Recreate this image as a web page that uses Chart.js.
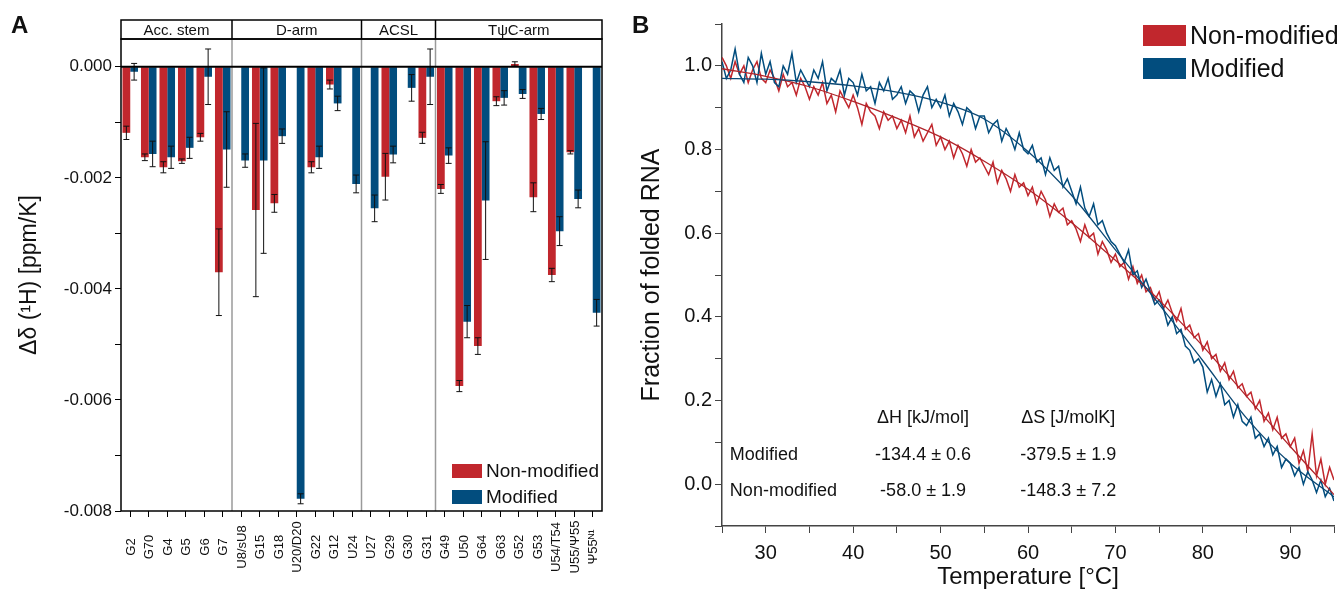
<!DOCTYPE html>
<html>
<head>
<meta charset="UTF-8">
<title>tRNA temperature coefficients and melting curves</title>
<script src="https://cdn.jsdelivr.net/npm/chart.js"></script>
<style>
  body { margin: 0; background: #fff; }
  #wrapA { position: absolute; left: 0; top: 0; }
  #wrapB { position: absolute; left: 620px; top: 0; }
</style>
</head>
<body>
<div id="wrapA"><canvas id="chartA" width="620" height="592"></canvas></div>
<div id="wrapB"><canvas id="chartB" width="724" height="592"></canvas></div>

<script>
    // ---- panel A: temperature coefficients per nucleotide ----
    const nucleotides = ['G2', 'G70', 'G4', 'G5', 'G6', 'G7',
        'U8/sU8', 'G15', 'G18', 'U20/D20', 'G22', 'G12', 'U24',
        'U27', 'G29', 'G30', 'G31',
        'G49', 'U50', 'G64', 'G63', 'G52', 'G53', 'U54/T54', 'U55/Ψ55', 'Ψ55ᴺ¹'];
    const regions = ['Acc. stem', 'D-arm', 'ACSL', 'TψC-arm'];
    const regionSizes = [6, 7, 4, 9];

    const nonModified = [-0.00119, -0.00163, -0.00181, -0.00170, -0.00127, -0.00370,
        null, -0.00258, -0.00246, null, -0.00181, -0.00032, null,
        null, -0.00198, null, -0.00128,
        -0.00220, -0.00575, -0.00503, -0.00062, 0.00005, -0.00235, -0.00375, -0.00154, null];
    const nonModifiedErr = [0.00012, 0.00006, 0.00010, 0.00004, 0.00007, 0.00078,
        null, 0.00156, 0.00016, null, 0.00010, 0.00008, null,
        null, 0.00042, null, 0.00010,
        0.00008, 0.00010, 0.00015, 0.00008, 0.00004, 0.00026, 0.00012, 0.00003, null];
    const modified = [-0.00009, -0.00157, -0.00163, -0.00146, -0.00018, -0.00149,
        -0.00169, -0.00169, -0.00125, -0.00778, -0.00163, -0.00066, -0.00211,
        -0.00255, -0.00158, -0.00038, -0.00018,
        -0.00160, -0.00459, -0.00241, -0.00056, -0.00049, -0.00085, -0.00296, -0.00238, -0.00443];
    const modifiedErr = [0.00015, 0.00023, 0.00020, 0.00019, 0.00050, 0.00068,
        0.00012, 0.00167, 0.00013, 0.00009, 0.00020, 0.00013, 0.00016,
        0.00024, 0.00015, 0.00024, 0.00050,
        0.00014, 0.00029, 0.00106, 0.00013, 0.00008, 0.00010, 0.00026, 0.00016, 0.00024];

    // ---- panel B: melting curves, sampled every 0.5 °C from 25 °C ----
    const meltStart = 25, meltStep = 0.5;
    const modifiedMelt = [
        1.01, 0.97, 0.99, 1.04, 0.98, 0.96, 1.02, 1.00, 0.96, 1.03,
        0.98, 1.01, 0.96, 0.95, 1.00, 0.98, 1.03, 0.96, 0.99, 0.97,
        0.95, 0.99, 0.97, 1.01, 0.94, 0.97, 0.96, 0.99, 0.93, 0.97,
        0.96, 0.93, 0.98, 0.94, 0.95, 0.91, 0.96, 0.94, 0.97, 0.92,
        0.93, 0.95, 0.91, 0.94, 0.93, 0.89, 0.93, 0.95, 0.90, 0.92,
        0.90, 0.93, 0.88, 0.91, 0.89, 0.86, 0.90, 0.89, 0.85, 0.88,
        0.88, 0.84, 0.86, 0.87, 0.82, 0.85, 0.83, 0.80, 0.84, 0.80,
        0.79, 0.81, 0.77, 0.78, 0.74, 0.78, 0.75, 0.76, 0.71, 0.73,
        0.70, 0.67, 0.71, 0.66, 0.64, 0.67, 0.62, 0.63, 0.60, 0.58,
        0.57, 0.55, 0.53, 0.56, 0.50, 0.51, 0.47, 0.49, 0.46, 0.43,
        0.44, 0.42, 0.38, 0.40, 0.36, 0.37, 0.33, 0.32, 0.29, 0.30,
        0.28, 0.22, 0.25, 0.21, 0.24, 0.19, 0.20, 0.16, 0.19, 0.15,
        0.14, 0.16, 0.11, 0.12, 0.09, 0.11, 0.07, 0.09, 0.04, 0.06,
        0.05, 0.02, 0.04, 0.00, 0.03, 0.01, -0.02, 0.01, -0.03, -0.01,
        -0.04];
    const nonModifiedMelt = [
        1.02, 1.00, 0.97, 1.01, 0.98, 1.00, 0.96, 0.99, 1.01, 0.97,
        0.96, 0.99, 0.97, 0.94, 0.98, 0.95, 0.96, 0.93, 0.97, 0.95,
        0.92, 0.95, 0.93, 0.96, 0.91, 0.93, 0.89, 0.94, 0.92, 0.90,
        0.93, 0.90, 0.86, 0.91, 0.89, 0.88, 0.85, 0.89, 0.87, 0.88,
        0.85, 0.87, 0.84, 0.88, 0.83, 0.85, 0.82, 0.84, 0.86, 0.81,
        0.83, 0.80, 0.82, 0.78, 0.81, 0.79, 0.76, 0.80, 0.77, 0.78,
        0.76, 0.74, 0.77, 0.72, 0.75, 0.73, 0.70, 0.74, 0.71, 0.72,
        0.69, 0.71, 0.67, 0.70, 0.68, 0.64, 0.67, 0.65, 0.66, 0.62,
        0.63, 0.61, 0.58, 0.62, 0.59, 0.60, 0.55, 0.58, 0.56, 0.53,
        0.55, 0.52, 0.53, 0.49, 0.52, 0.48, 0.50, 0.46, 0.47, 0.44,
        0.46, 0.42, 0.44, 0.41, 0.39, 0.42, 0.37, 0.38, 0.35, 0.36,
        0.32, 0.34, 0.30, 0.31, 0.27, 0.29, 0.25, 0.27, 0.23, 0.24,
        0.21, 0.22, 0.18, 0.20, 0.15, 0.17, 0.13, 0.16, 0.11, 0.12,
        0.09, 0.11, 0.05, 0.08, 0.03, 0.12, 0.02, 0.06, 0.00, 0.04,
        0.01];
    const fitTemps = [25, 30, 35, 40, 45, 50, 55, 60, 65, 70, 75, 80, 85, 90, 95];
    const modifiedFit = [0.970, 0.968, 0.962, 0.952, 0.937, 0.913, 0.873, 0.795, 0.690, 0.560, 0.430, 0.295, 0.158, 0.050, -0.030];
    const nonModifiedFit = [0.993, 0.975, 0.950, 0.915, 0.875, 0.830, 0.772, 0.705, 0.625, 0.535, 0.440, 0.330, 0.210, 0.090, -0.025];

    const tableHead = ['ΔH [kJ/mol]', 'ΔS [J/molK]'];
    const tableRows = [
        ['Modified', '-134.4 ± 0.6', '-379.5 ± 1.9'],
        ['Non-modified', '-58.0 ± 1.9', '-148.3 ± 7.2']
    ];

    const RED = '#c1272d';
    const BLUE = '#024d7e';
    const FONT = '"Liberation Sans", Arial, sans-serif';
    Chart.defaults.font.family = FONT;
    Chart.defaults.color = '#111';

    function regionEdges(chart) {
        const x = chart.scales.x, a = chart.chartArea;
        const edges = [a.left];
        let idx = 0;
        regionSizes.slice(0, -1).forEach(n => {
            idx += n;
            edges.push((x.getPixelForValue(idx - 1) + x.getPixelForValue(idx)) / 2);
        });
        edges.push(a.right);
        return edges;
    }

    const panelA = {
        id: 'panelA',
        beforeDatasetsDraw(chart) {
            const {ctx, chartArea: a} = chart;
            ctx.save();
            ctx.strokeStyle = '#9a9a9a';
            ctx.lineWidth = 1.5;
            regionEdges(chart).slice(1, -1).forEach(px => {
                ctx.beginPath(); ctx.moveTo(px, a.top); ctx.lineTo(px, a.bottom); ctx.stroke();
            });
            ctx.restore();
        },
        afterDatasetsDraw(chart) {
            const {ctx, chartArea: a, scales: {y}} = chart;
            ctx.save();
            // error bars
            ctx.strokeStyle = '#111';
            ctx.lineWidth = 1;
            chart.data.datasets.forEach((ds, d) => {
                chart.getDatasetMeta(d).data.forEach((bar, i) => {
                    const v = ds.data[i], e = ds.errors[i];
                    if (v === null || e === null) return;
                    const y1 = y.getPixelForValue(v - e), y2 = y.getPixelForValue(v + e);
                    ctx.beginPath();
                    ctx.moveTo(bar.x, y1); ctx.lineTo(bar.x, y2);
                    ctx.moveTo(bar.x - 3, y1); ctx.lineTo(bar.x + 3, y1);
                    ctx.moveTo(bar.x - 3, y2); ctx.lineTo(bar.x + 3, y2);
                    ctx.stroke();
                });
            });
            // zero line
            const y0 = y.getPixelForValue(0);
            ctx.lineWidth = 2.2;
            ctx.strokeStyle = '#000';
            ctx.beginPath(); ctx.moveTo(a.left, y0); ctx.lineTo(a.right, y0); ctx.stroke();
            ctx.restore();
        },
        afterDraw(chart) {
            const {ctx, chartArea: a, scales: {x}} = chart;
            const headTop = a.top - 19;
            const edges = regionEdges(chart);
            ctx.save();
            // frame and region header
            ctx.strokeStyle = '#000';
            ctx.lineWidth = 1.5;
            ctx.strokeRect(a.left, a.top, a.right - a.left, a.bottom - a.top);
            ctx.strokeRect(a.left, headTop, a.right - a.left, a.top - headTop);
            edges.slice(1, -1).forEach(px => {
                ctx.beginPath(); ctx.moveTo(px, headTop); ctx.lineTo(px, a.top); ctx.stroke();
            });
            ctx.fillStyle = '#111';
            ctx.font = '15px ' + FONT;
            ctx.textAlign = 'center';
            ctx.textBaseline = 'middle';
            regions.forEach((r, i) => ctx.fillText(r, (edges[i] + edges[i + 1]) / 2, (headTop + a.top) / 2 + 1));
            // vertical nucleotide labels, centred under each tick
            ctx.font = '13px ' + FONT;
            nucleotides.forEach((lab, i) => {
                ctx.save();
                ctx.translate(x.getPixelForValue(i) + 1, a.bottom + 36);
                ctx.rotate(-Math.PI / 2);
                ctx.fillText(lab, 0, 0);
                ctx.restore();
            });
            // legend inside the plot
            ctx.font = '19px ' + FONT;
            ctx.textAlign = 'left';
            chart.data.datasets.forEach((ds, i) => {
                const bx = a.right - 150, by = a.bottom - 47 + i * 26;
                ctx.fillStyle = ds.backgroundColor;
                ctx.fillRect(bx, by, 30, 14);
                ctx.fillStyle = '#111';
                ctx.fillText(ds.label, bx + 34, by + 8);
            });
            // panel letter
            ctx.font = 'bold 24px ' + FONT;
            ctx.textBaseline = 'alphabetic';
            ctx.fillText('A', 11, 33);
            ctx.restore();
        }
    };

    new Chart(document.getElementById('chartA'), {
        type: 'bar',
        data: {
            labels: nucleotides,
            datasets: [
                {label: 'Non-modified', data: nonModified, errors: nonModifiedErr, backgroundColor: RED},
                {label: 'Modified', data: modified, errors: modifiedErr, backgroundColor: BLUE}
            ]
        },
        options: {
            responsive: false,
            animation: false,
            layout: {padding: {top: 39, right: 18, left: 0, bottom: 0}},
            datasets: {bar: {categoryPercentage: 0.84, barPercentage: 1.0}},
            plugins: {legend: {display: false}, tooltip: {enabled: false}},
            scales: {
                x: {
                    grid: {offset: false, drawOnChartArea: false, tickLength: 6, color: '#000'},
                    border: {display: false},
                    ticks: {display: false},
                    afterFit: s => { s.height = 81; }
                },
                y: {
                    min: -0.008, max: 0.0005,
                    afterBuildTicks: s => { s.ticks = s.ticks.filter(t => t.value < 0.0001); },
                    ticks: {
                        stepSize: 0.001,
                        padding: 3,
                        font: {size: 17},
                        callback: v => {
                            const k = Math.round(v * 1000);
                            return k % 2 ? '' : (k === 0 ? '0.000' : (k / 1000).toFixed(3));
                        }
                    },
                    grid: {drawOnChartArea: false, tickLength: 6, color: '#000'},
                    border: {display: false},
                    title: {display: true, text: 'Δδ (¹H) [ppm/K]', font: {size: 23}, padding: {top: 16, bottom: 0}},
                    afterFit: s => { s.width = 121; }
                }
            }
        },
        plugins: [panelA]
    });

    const panelB = {
        id: 'panelB',
        afterDraw(chart) {
            const {ctx, chartArea: a, scales: {x, y}} = chart;
            ctx.save();
            ctx.fillStyle = '#111';
            // legend, top right
            ctx.font = '25px ' + FONT;
            ctx.textAlign = 'left';
            ctx.textBaseline = 'middle';
            [chart.data.datasets[3], chart.data.datasets[2]].forEach((ds, i) => {
                const bx = a.right - 191, by = 25 + i * 33;
                ctx.fillStyle = ds.borderColor;
                ctx.fillRect(bx, by, 43, 21);
                ctx.fillStyle = '#111';
                ctx.fillText(ds.label, bx + 47, by + 12);
            });
            // thermodynamic table
            ctx.font = '18px ' + FONT;
            const colX = [x.getPixelForValue(48.0), x.getPixelForValue(64.6)];
            const rowY = [y.getPixelForValue(0.069), y.getPixelForValue(-0.017)];
            ctx.textAlign = 'center';
            tableHead.forEach((h, c) => ctx.fillText(h, colX[c], y.getPixelForValue(0.158)));
            tableRows.forEach((row, r) => {
                ctx.textAlign = 'left';
                ctx.fillText(row[0], x.getPixelForValue(25.9), rowY[r]);
                ctx.textAlign = 'center';
                ctx.fillText(row[1], colX[0], rowY[r]);
                ctx.fillText(row[2], colX[1], rowY[r]);
            });
            ctx.textAlign = 'left';
            ctx.textBaseline = 'alphabetic';
            ctx.font = 'bold 24px ' + FONT;
            ctx.fillText('B', 12, 33);
            ctx.restore();
        }
    };

    const meltPoints = vals => vals.map((v, i) => ({x: meltStart + i * meltStep, y: v}));
    const fitPoints = vals => vals.map((v, i) => ({x: fitTemps[i], y: v}));

    new Chart(document.getElementById('chartB'), {
        type: 'line',
        data: {
            datasets: [
                {label: 'Modified fit', data: fitPoints(modifiedFit), borderColor: '#0b4874', borderWidth: 1.3, pointRadius: 0, cubicInterpolationMode: 'monotone'},
                {label: 'Non-modified fit', data: fitPoints(nonModifiedFit), borderColor: '#b0242a', borderWidth: 1.3, pointRadius: 0, cubicInterpolationMode: 'monotone'},
                {label: 'Modified', data: meltPoints(modifiedMelt), borderColor: BLUE, borderWidth: 1.5, pointRadius: 0},
                {label: 'Non-modified', data: meltPoints(nonModifiedMelt), borderColor: RED, borderWidth: 1.5, pointRadius: 0}
            ]
        },
        options: {
            responsive: false,
            animation: false,
            layout: {padding: {top: 24, right: 10, left: 0, bottom: 0}},
            plugins: {legend: {display: false}, tooltip: {enabled: false}},
            scales: {
                x: {
                    type: 'linear', min: 25, max: 95,
                    ticks: {stepSize: 5, autoSkip: false, maxRotation: 0, padding: 8, font: {size: 20},
                        callback: v => (v % 10 === 0 ? v : '')},
                    grid: {drawOnChartArea: false, tickLength: 7, color: '#444'},
                    border: {color: '#444', width: 1.5},
                    title: {display: true, text: 'Temperature [°C]', font: {size: 24}, padding: {top: 0, bottom: 0}},
                    afterFit: s => { s.height = 66; }
                },
                y: {
                    min: -0.1, max: 1.1,
                    ticks: {stepSize: 0.1, padding: 3, font: {size: 20},
                        callback: v => {
                            const k = Math.round(v * 10);
                            return (k % 2 || k < 0 || k > 10) ? '' : (k / 10).toFixed(1);
                        }},
                    grid: {drawOnChartArea: false, tickLength: 7, color: '#444'},
                    border: {color: '#444', width: 1.5},
                    title: {display: true, text: 'Fraction of folded RNA', font: {size: 25}, padding: {top: 17, bottom: 0}},
                    afterFit: s => { s.width = 102; }
                }
            }
        },
        plugins: [panelB]
    });
</script>
</body>
</html>
